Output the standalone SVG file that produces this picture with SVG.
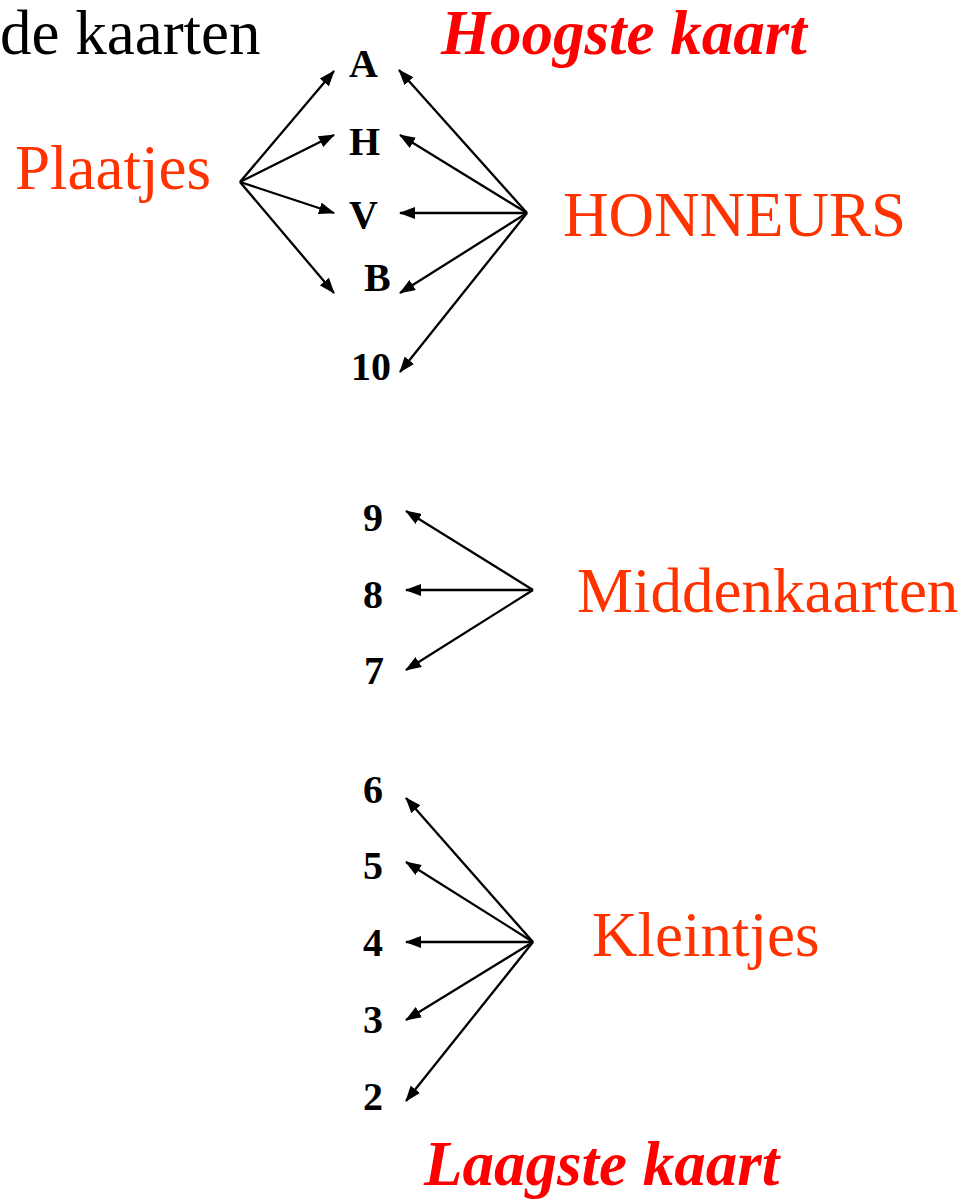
<svg xmlns="http://www.w3.org/2000/svg" width="968" height="1202" viewBox="0 0 968 1202">
<style>
.t{font-family:"Liberation Serif","Times New Roman",serif;font-size:63px}
.o{fill:#FF3300}
.r{fill:#FF0000;font-weight:bold;font-style:italic}
.k{fill:#000}
.c{font-family:"Liberation Serif","Times New Roman",serif;font-size:40px;font-weight:bold;fill:#000}
.l{stroke:#000;stroke-width:2.3;fill:none;marker-end:url(#ah)}
</style>
<defs>
<marker id="ah" markerUnits="userSpaceOnUse" markerWidth="16" markerHeight="12" refX="15" refY="6" orient="auto" viewBox="0 0 16 12">
<path d="M0,0 L16,6 L0,12 z" fill="#000"/>
</marker>
</defs>
<rect width="968" height="1202" fill="#fff"/>
<g id="title"><text class="t k" x="0" y="54">de kaarten</text></g>
<g id="hoogste"><text class="t r" x="441" y="54">Hoogste kaart</text></g>
<g id="plaatjes"><text class="t o" x="15" y="189">Plaatjes</text></g>
<g id="honneurs"><text class="t o" x="563" y="236">HONNEURS</text></g>
<g id="middenkaarten"><text class="t o" x="577" y="612">Middenkaarten</text></g>
<g id="kleintjes"><text class="t o" x="592" y="956">Kleintjes</text></g>
<g id="laagste"><text class="t r" x="424" y="1185">Laagste kaart</text></g>
<g id="card-A"><text class="c" x="349" y="77">A</text></g>
<g id="card-H"><text class="c" x="349" y="155">H</text></g>
<g id="card-V"><text class="c" x="349" y="228">V</text></g>
<g id="card-B"><text class="c" x="364" y="291">B</text></g>
<g id="card-10"><text class="c" x="351" y="380">10</text></g>
<g id="card-9"><text class="c" x="363" y="531">9</text></g>
<g id="card-8"><text class="c" x="363" y="608">8</text></g>
<g id="card-7"><text class="c" x="364" y="684">7</text></g>
<g id="card-6"><text class="c" x="363" y="803">6</text></g>
<g id="card-5"><text class="c" x="363" y="879">5</text></g>
<g id="card-4"><text class="c" x="363" y="956">4</text></g>
<g id="card-3"><text class="c" x="363" y="1033">3</text></g>
<g id="card-2"><text class="c" x="363" y="1110">2</text></g>
<g id="connectors">
<line class="l" x1="240" y1="182" x2="334" y2="71"/>
<line class="l" x1="240" y1="182" x2="334" y2="135"/>
<line class="l" x1="240" y1="182" x2="334" y2="213"/>
<line class="l" x1="240" y1="182" x2="334" y2="293"/>
<line class="l" x1="527" y1="213" x2="399" y2="70"/>
<line class="l" x1="527" y1="213" x2="400" y2="135"/>
<line class="l" x1="527" y1="213" x2="400" y2="213"/>
<line class="l" x1="527" y1="213" x2="400" y2="293"/>
<line class="l" x1="527" y1="213" x2="400" y2="372"/>
<line class="l" x1="533" y1="590" x2="406" y2="511"/>
<line class="l" x1="533" y1="590" x2="406" y2="590"/>
<line class="l" x1="533" y1="590" x2="406" y2="670"/>
<line class="l" x1="533" y1="942" x2="406" y2="798"/>
<line class="l" x1="533" y1="942" x2="406" y2="862"/>
<line class="l" x1="533" y1="942" x2="406" y2="942"/>
<line class="l" x1="533" y1="942" x2="406" y2="1020"/>
<line class="l" x1="533" y1="942" x2="406" y2="1101"/>
</g>
</svg>
